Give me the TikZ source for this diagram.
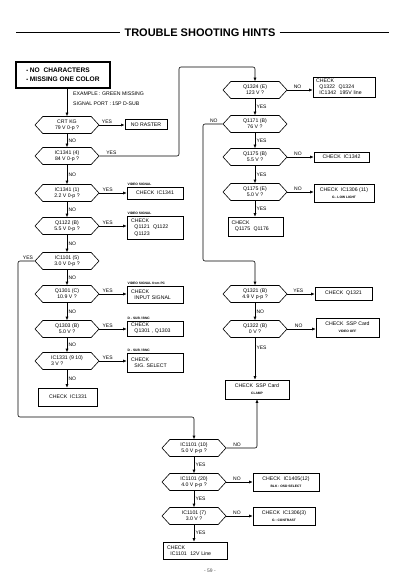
\documentclass[tikz,border=0pt]{standalone}
\usepackage{fontspec}
\setmainfont{Liberation Sans}
\usetikzlibrary{shapes.symbols,arrows.meta}
\tikzset{
  dec/.style={draw, signal, signal to=east and west, signal pointer angle=95,
    minimum width=64pt, minimum height=17pt, inner sep=0.5pt, align=center,
    font=\fontsize{5.2}{6.2}\selectfont, line width=0.6pt},
  box/.style={draw, rectangle, inner sep=1pt, align=left,
    font=\fontsize{5.2}{6.2}\selectfont, line width=0.6pt},
  arr/.style={-{Latex[length=3.5pt,width=3pt]}, line width=0.6pt},
  wire/.style={line width=0.6pt, rounded corners=2pt},
  lbl/.style={font=\fontsize{5}{6}\selectfont, inner sep=1.2pt},
  captxt/.style={font=\fontsize{3.3}{4}\selectfont\bfseries, inner sep=0.8pt, anchor=south west},
  subtxt/.style={font=\fontsize{3.3}{4}\selectfont\bfseries}
}
\newcommand{\mybul}{{\fontsize{5}{5}\selectfont\raisebox{0.3pt}{•}}}
\begin{document}
\begin{tikzpicture}[x=1pt,y=-1pt]
\useasboundingbox (0,0) rectangle (400,580);

% title
\node[font=\fontsize{11}{13}\selectfont\bfseries, inner sep=0pt] (title) at (200,33) {TROUBLE SHOOTING HINTS};
\coordinate (tl) at (16,33);
\coordinate (tr) at (389,33);
\draw[line width=1pt] (tl) -- ([xshift=-4pt]title.west);
\draw[line width=1pt] ([xshift=4pt]title.east) -- (tr);

% start box
\node[draw, line width=1.5pt, minimum width=94pt, minimum height=26pt, align=left,
  font=\fontsize{6.6}{9}\selectfont\bfseries, inner sep=1pt] (start) at (63,75)
  {\mybul\ NO\ \ CHARACTERS\\\mybul\ MISSING ONE COLOR};
\node[anchor=west, align=left, font=\fontsize{5.2}{10}\selectfont, inner sep=0pt] (ex) at (73,99)
  {EXAMPLE : GREEN MISSING\\SIGNAL PORT : 15P D-SUB};

% left column
\node[dec] (d1) at (67,125) {CRT KG\\79 V 0-p ?};
\node[dec] (d2) at (67,156) {IC1341 (4)\\84 V 0-p ?};
\node[dec] (d3) at (67,193) {IC1341 (1)\\2.2 V 0-p ?};
\node[dec] (d4) at (67,226) {Q1122 (B)\\5.5 V 0-p ?};
\node[dec] (d5) at (67,261) {IC1101 (5)\\3.0 V 0-p ?};
\node[dec] (d6) at (67,294) {Q1301 (C)\\10.9 V ?};
\node[dec] (d7) at (67,329) {Q1303 (B)\\5.0 V ?};
\node[dec, align=left] (d8) at (67,361) {IC1331 (9 10)\\3 V ?};
\node[box, minimum width=59pt, minimum height=18pt, align=center] (b8) at (68,397) {CHECK\ \ IC1331};

\node[box, line width=1pt, minimum width=42pt, minimum height=10pt] (r1) at (146,125) {NO RASTER};
\node[box, minimum width=56pt, minimum height=12pt, align=center] (r3) at (155,193) {CHECK\ \ IC1341};
\node[box, minimum width=56pt, minimum height=23pt, text width=48pt] (r4) at (155,227.5) {CHECK\\\ \ Q1121\ \ Q1122\\\ \ Q1123};
\node[box, minimum width=56pt, minimum height=17pt, text width=48pt] (r6) at (155,294.5) {CHECK\\\ \ INPUT SIGNAL};
\node[box, minimum width=56pt, minimum height=15pt, text width=48pt] (r7) at (155,328.5) {CHECK\\\ \ Q1301 , Q1303};
\node[box, minimum width=56pt, minimum height=19pt, text width=48pt] (r8) at (155,362.5) {CHECK\\\ \ SIG. SELECT};

\node[captxt] (c3) at (r3.north west) {VIDEO SIGNAL};
\node[captxt] (c4) at (r4.north west) {VIDEO SIGNAL};
\node[captxt] (c6) at (r6.north west) {VIDEO SIGNAL from PC};
\node[captxt] (c7) at (r7.north west) {D - SUB / BNC};
\node[captxt] (c8) at (r8.north west) {D - SUB / BNC};

\draw[arr] (start.south -| d1.north) -- (d1.north);
\draw[arr] (d1.east) -- node[lbl, above, pos=0.3]{YES} (r1.west);
\draw[arr] (d1.south) -- node[lbl, right]{NO} (d2.north);
\draw[arr] (d2.south) -- node[lbl, right]{NO} (d3.north);
\draw[arr] (d3.east) -- node[lbl, above, pos=0.3]{YES} (r3.west);
\draw[arr] (d3.south) -- node[lbl, right]{NO} (d4.north);
\draw[arr] (d4.east) -- node[lbl, above, pos=0.3]{YES} (r4.west |- d4.east);
\draw[arr] (d4.south) -- node[lbl, right]{NO} (d5.north);
\draw[arr] (d5.south) -- node[lbl, right]{NO} (d6.north);
\draw[arr] (d6.east) -- node[lbl, above, pos=0.3]{YES} (r6.west |- d6.east);
\draw[arr] (d6.south) -- node[lbl, right]{NO} (d7.north);
\draw[arr] (d7.east) -- node[lbl, above, pos=0.3]{YES} (r7.west |- d7.east);
\draw[arr] (d7.south) -- node[lbl, right]{NO} (d8.north);
\draw[arr] (d8.east) -- node[lbl, above, pos=0.3]{YES} (r8.west |- d8.east);
\draw[arr] (d8.south) -- node[lbl, right]{NO} (d8.south |- b8.north);

% right column
\node[dec] (e1) at (255,90) {Q1324 (E)\\123 V ?};
\node[dec] (e2) at (255,124) {Q1171 (B)\\76 V ?};
\node[dec] (e3) at (255,157) {Q1175 (B)\\5.5 V ?};
\node[dec] (e4) at (255,192) {Q1175 (E)\\5.0 V ?};
\node[box, minimum width=55pt, minimum height=19pt, text width=48pt] (eb) at (255.5,226.5) {CHECK\\\ \ Q1175\ \ Q1176};
\node[dec] (e5) at (255,294) {Q1321 (B)\\4.9 V p-p ?};
\node[dec] (e6) at (255,329) {Q1322 (B)\\0 V ?};
\node[box, minimum width=64pt, minimum height=19pt, align=center] (ec) at (257,389.5) {CHECK\ \ SSP Card\\[1pt]{\fontsize{3.3}{4}\selectfont\bfseries CLAMP}};

\node[box, minimum width=62pt, minimum height=20pt, text width=56pt] (s1) at (344,87) {CHECK\\\ \ Q1322\ \ Q1324\\\ \ IC1342\ \ 195V line};
\node[box, minimum width=55pt, minimum height=10pt, align=center] (s3) at (341.5,157) {CHECK\ \ IC1342};
\node[box, minimum width=60pt, minimum height=18pt, align=center] (s4) at (344,193) {CHECK\ \ IC1306 (11)\\[1pt]{\fontsize{3.3}{4}\selectfont\bfseries G - LOW LIGHT}};
\node[box, minimum width=57pt, minimum height=13pt, align=center] (s5) at (343.5,293.5) {CHECK\ \ Q1321};
\node[box, minimum width=63pt, minimum height=19pt, align=center] (s6) at (347.5,327.5) {CHECK\ \ SSP Card\\[1pt]{\fontsize{3.3}{4}\selectfont\bfseries VIDEO OFF}};

\draw[arr] (e1.east) -- node[lbl, above, pos=0.4]{NO} (s1.west |- e1.east);
\draw[arr] (e1.south) -- node[lbl, right]{YES} (e2.north);
\draw[arr] (e2.south) -- node[lbl, right]{YES} (e3.north);
\draw[arr] (e3.east) -- node[lbl, above, pos=0.4]{NO} (s3.west |- e3.east);
\draw[arr] (e3.south) -- node[lbl, right]{YES} (e4.north);
\draw[arr] (e4.east) -- node[lbl, above, pos=0.4]{NO} (s4.west |- e4.east);
\draw[arr] (e4.south) -- node[lbl, right]{YES} (e4.south |- eb.north);
\draw[arr] (e5.east) -- node[lbl, above, pos=0.4]{YES} (s5.west |- e5.east);
\draw[arr] (e5.south) -- node[lbl, right]{NO} (e6.north);
\draw[arr] (e6.east) -- node[lbl, above, pos=0.4]{NO} (s6.west |- e6.east);
\draw[arr] (e6.south) -- node[lbl, right, pos=0.25]{YES} (e6.south |- ec.north);

% bottom column
\node[dec] (f1) at (194,448) {IC1101 (10)\\5.0 V p-p ?};
\node[dec] (f2) at (194,482) {IC1101 (20)\\4.0 V p-p ?};
\node[dec] (f3) at (194,516) {IC1101 (7)\\3.0 V ?};
\node[box, minimum width=64pt, minimum height=17pt, text width=56pt] (fb) at (195,550.5) {CHECK\\\ \ IC1101\ \ 12V Line};
\node[box, minimum width=66pt, minimum height=18pt, align=center] (t2) at (286,482) {CHECK\ \ IC1405(12)\\[1pt]{\fontsize{3.3}{4}\selectfont\bfseries BLK : OSD SELECT}};
\node[box, minimum width=62pt, minimum height=18pt, align=center] (t3) at (284,516) {CHECK\ \ IC1306(3)\\[1pt]{\fontsize{3.3}{4}\selectfont\bfseries G : CONTRAST}};

\draw[arr] (f1.south) -- node[lbl, right]{YES} (f2.north);
\draw[arr] (f2.east) -- node[lbl, above, pos=0.4]{NO} (t2.west |- f2.east);
\draw[arr] (f2.south) -- node[lbl, right]{YES} (f3.north);
\draw[arr] (f3.east) -- node[lbl, above, pos=0.4]{NO} (t3.west |- f3.east);
\draw[arr] (f3.south) -- node[lbl, right]{YES} (f3.south |- fb.north);

% long connectors
\coordinate (k1) at (179,156);
\coordinate (k2) at (179,67);
\coordinate (k3) at (255,67);
\draw[wire, arr] (d2.east) -- node[lbl, above, pos=0.15]{YES} (k1) -- (k2) -- (k3) -- (e1.north);

\coordinate (m1) at (203,124);
\coordinate (m2) at (203,261);
\coordinate (m3) at (255,261);
\draw[wire, arr] (e2.west) -- node[lbl, above, pos=0.45]{NO} (m1) -- (m2) -- (m3) -- (e5.north);

\coordinate (n1) at (18,261);
\coordinate (n2) at (18,417);
\coordinate (n3) at (194,417);
\draw[wire, arr] (d5.west) -- node[lbl, above, pos=0.4]{YES} (n1) -- (n2) -- (n3) -- (f1.north);

\coordinate (p1) at (257,448);
\draw[wire, arr] (f1.east) -- node[lbl, above, pos=0.35]{NO} (p1) -- (ec.south);

\node[font=\fontsize{5}{6}\selectfont, text=black!70] (pg) at (210,571) {- 59 -};
\end{tikzpicture}
\end{document}
